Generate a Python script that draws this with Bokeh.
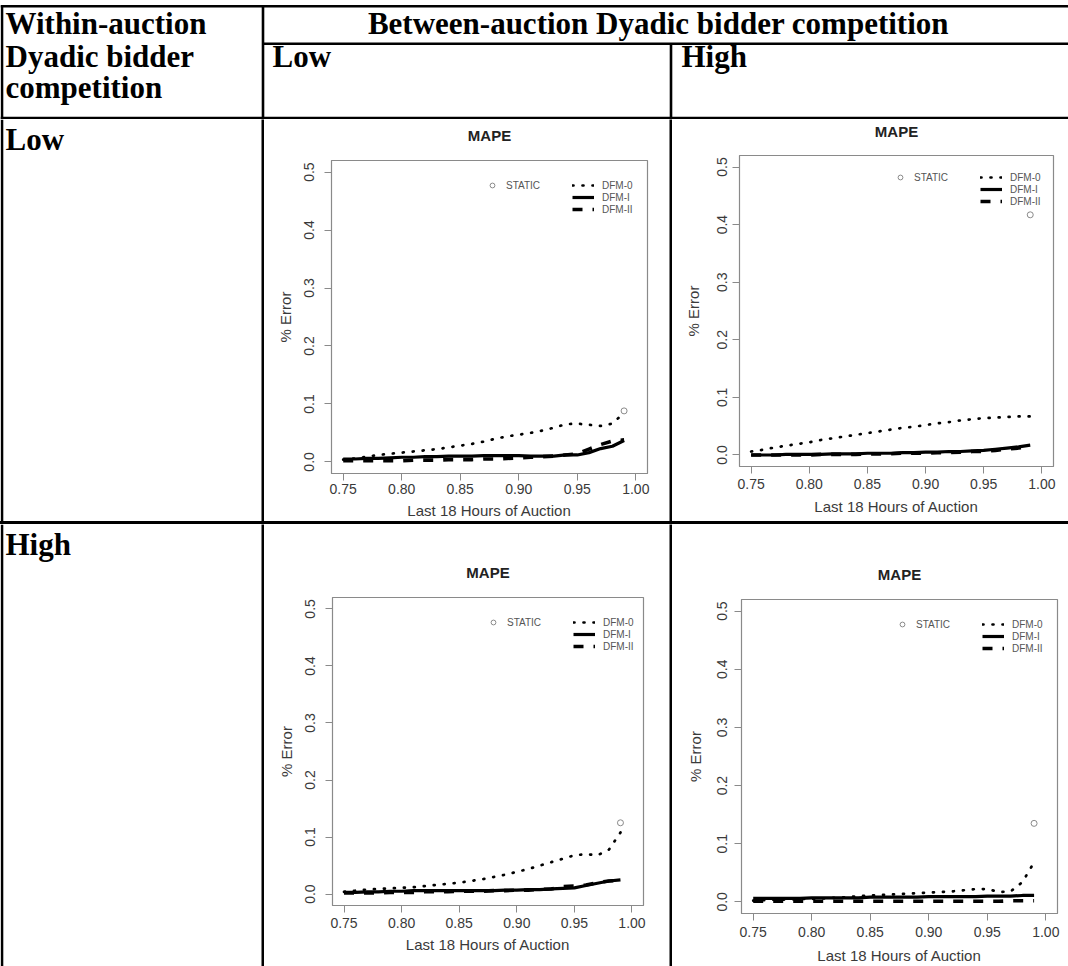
from bokeh.plotting import figure
from bokeh.layouts import column, row
from bokeh.models import (Range1d, FixedTicker, PrintfTickFormatter, Legend, LegendItem,
                          LinearAxis, Div)
from bokeh.core.properties import value
from bokeh.embed import file_html
from bokeh.resources import INLINE

# ---------------- data ----------------
x_frac = [0.75, 0.76, 0.77, 0.78, 0.79, 0.80, 0.81, 0.82, 0.83, 0.84, 0.85, 0.86, 0.87,
          0.88, 0.89, 0.90, 0.91, 0.92, 0.93, 0.94, 0.95, 0.96, 0.97, 0.98, 0.99]
x_ticks = [0.75, 0.80, 0.85, 0.90, 0.95, 1.00]
y_ticks = [0.0, 0.1, 0.2, 0.3, 0.4, 0.5]
series_names = ["STATIC", "DFM-0", "DFM-I", "DFM-II"]

# within Low / between Low
dfm0_ll = [0.004, 0.006, 0.009, 0.012, 0.014, 0.016, 0.018, 0.020, 0.022, 0.025, 0.028, 0.031, 0.035,
           0.040, 0.044, 0.047, 0.050, 0.054, 0.059, 0.065, 0.066, 0.064, 0.062, 0.066, 0.085]
dfm1_ll = [0.005, 0.005, 0.006, 0.006, 0.007, 0.008, 0.008, 0.009, 0.009, 0.010, 0.010, 0.010, 0.011,
           0.011, 0.011, 0.011, 0.010, 0.010, 0.010, 0.012, 0.012, 0.016, 0.023, 0.027, 0.037]
dfm2_ll = [0.002, 0.002, 0.002, 0.002, 0.002, 0.002, 0.003, 0.003, 0.003, 0.004, 0.004, 0.004, 0.005,
           0.005, 0.006, 0.007, 0.008, 0.009, 0.010, 0.012, 0.014, 0.022, 0.030, 0.036, 0.038]
static_ll = [0.088]

# within Low / between High
dfm0_lh = [0.006, 0.009, 0.013, 0.016, 0.019, 0.022, 0.026, 0.029, 0.032, 0.035, 0.038, 0.041, 0.044,
           0.047, 0.049, 0.052, 0.055, 0.057, 0.060, 0.062, 0.064, 0.065, 0.066, 0.067, 0.067]
dfm1_lh = [0.000, 0.000, 0.000, 0.001, 0.001, 0.001, 0.001, 0.002, 0.002, 0.002, 0.003, 0.003, 0.003,
           0.004, 0.004, 0.005, 0.005, 0.006, 0.006, 0.007, 0.008, 0.010, 0.012, 0.014, 0.017]
dfm2_lh = [0.000, 0.000, 0.000, 0.000, 0.000, 0.000, 0.001, 0.001, 0.001, 0.001, 0.002, 0.002, 0.002,
           0.003, 0.003, 0.003, 0.004, 0.004, 0.005, 0.006, 0.006, 0.008, 0.010, 0.012, 0.015]
static_lh = [0.417]

# within High / between Low
dfm0_hl = [0.004, 0.006, 0.008, 0.009, 0.010, 0.011, 0.012, 0.014, 0.016, 0.018, 0.020, 0.023, 0.026,
           0.030, 0.034, 0.039, 0.044, 0.050, 0.056, 0.062, 0.068, 0.070, 0.068, 0.078, 0.108]
dfm1_hl = [0.003, 0.003, 0.004, 0.004, 0.005, 0.005, 0.006, 0.006, 0.006, 0.006, 0.006, 0.006, 0.006,
           0.006, 0.007, 0.007, 0.008, 0.008, 0.009, 0.010, 0.011, 0.015, 0.019, 0.023, 0.025]
dfm2_hl = [0.002, 0.002, 0.002, 0.002, 0.003, 0.003, 0.003, 0.004, 0.004, 0.004, 0.005, 0.005, 0.005,
           0.006, 0.006, 0.007, 0.007, 0.008, 0.009, 0.013, 0.014, 0.016, 0.020, 0.023, 0.024]
static_hl = [0.125]

# within High / between High
dfm0_hh = [0.002, 0.003, 0.004, 0.004, 0.005, 0.005, 0.006, 0.007, 0.008, 0.010, 0.011, 0.012, 0.013,
           0.014, 0.015, 0.016, 0.017, 0.018, 0.020, 0.022, 0.022, 0.017, 0.018, 0.034, 0.068]
dfm1_hh = [0.006, 0.006, 0.006, 0.006, 0.006, 0.007, 0.007, 0.007, 0.007, 0.007, 0.008, 0.008, 0.008,
           0.008, 0.008, 0.009, 0.009, 0.009, 0.009, 0.009, 0.010, 0.010, 0.010, 0.011, 0.011]
dfm2_hh = [0.001, 0.001, 0.001, 0.001, 0.001, 0.001, 0.001, 0.001, 0.001, 0.001, 0.001, 0.001, 0.001,
           0.001, 0.001, 0.001, 0.001, 0.001, 0.001, 0.001, 0.001, 0.001, 0.002, 0.002, 0.002]
static_hh = [0.135]
static_x = [0.99]

col_header = "Between-auction Dyadic bidder competition"
row_header = ["Within-auction", "Dyadic bidder", "competition"]
levels = ["Low", "High"]
chart_title = "MAPE"
x_label = "Last 18 Hours of Auction"
y_label = "% Error"

SERIF = value("Liberation Serif")
SANS = "Liberation Sans"
GREY = "#8a8a8a"
TXT = "#3a3a3a"
HDR_SIZE = "31px"
W = 1068


def no_align(p):
    try:
        p.frame_align = False
    except Exception:
        pass
    return p


def blank(w, h, yr):
    p = figure(width=w, height=h, x_range=Range1d(0, w), y_range=Range1d(yr, 0),
               min_border=0, toolbar_location=None, output_backend="svg",
               x_axis_type=None, y_axis_type=None, outline_line_color=None)
    p.grid.visible = False
    return no_align(p)


def black_bar(w, h):
    p = figure(width=w, height=h, min_border=0, toolbar_location=None, output_backend="svg",
               x_axis_type=None, y_axis_type=None, outline_line_color=None,
               background_fill_color="black", border_fill_color="black")
    p.grid.visible = False
    return no_align(p)


# ---------------- header ----------------
hdr = blank(W, 119, 119)
hdr.segment(x0=[0, 262, 0, 262.5, 670.5, 1.5], y0=[5.7, 43.3, 117.5, 5, 43, 5],
            x1=[W, W, W, 262.5, 670.5, 1.5], y1=[5.7, 43.3, 117.5, 119, 119, 119],
            line_color="black", line_width=2.6)
hdr.text(x=[5, 5, 5], y=[23, 56, 87], text=row_header, text_font=SERIF,
         text_font_style="bold", text_font_size=HDR_SIZE, text_baseline="middle")
hdr.text(x=[658], y=[23], text=[col_header], text_font=SERIF, text_align="center",
         text_font_style="bold", text_font_size=HDR_SIZE, text_baseline="middle")
hdr.text(x=[272, 681], y=[56, 56], text=levels, text_font=SERIF,
         text_font_style="bold", text_font_size=HDR_SIZE, text_baseline="middle")


def row_label(h, label):
    p = blank(261, h, h)
    p.segment(x0=[1.5], y0=[0], x1=[1.5], y1=[h], line_color="black", line_width=2.6)
    p.text(x=[5], y=[20], text=[label], text_font=SERIF, text_font_style="bold",
           text_font_size=HDR_SIZE, text_baseline="middle")
    return p


def chart(w, h, fl, fr, ft, fb, yls, yas, xls, xas, ts, d0, d1, d2, st):
    p = figure(width=w, height=h, x_range=Range1d(0.74, 1.01), y_range=Range1d(-0.02, 0.52),
               min_border_left=fl, min_border_right=fr, min_border_top=ft, min_border_bottom=fb,
               toolbar_location=None, output_backend="svg",
               outline_line_color=GREY, outline_line_width=1.2)
    no_align(p)
    p.grid.visible = False
    xa = p.below[0]
    ya = p.left[0]
    xa.ticker = FixedTicker(ticks=x_ticks)
    xa.formatter = PrintfTickFormatter(format="%.2f")
    ya.ticker = FixedTicker(ticks=y_ticks)
    ya.formatter = PrintfTickFormatter(format="%.1f")
    xa.axis_label = x_label
    ya.axis_label = y_label
    for ax in (xa, ya):
        ax.major_tick_out = 7
        ax.major_tick_in = 0
        ax.minor_tick_out = 0
        ax.minor_tick_in = 0
        ax.axis_line_color = GREY
        ax.major_tick_line_color = GREY
        ax.major_label_text_font = SANS
        ax.major_label_text_font_size = "14px"
        ax.major_label_text_color = TXT
        ax.axis_label_text_font = SANS
        ax.axis_label_text_font_size = "15px"
        ax.axis_label_text_font_style = "normal"
        ax.axis_label_text_color = TXT
    ya.major_label_orientation = "vertical"
    xa.major_label_standoff = xls
    xa.axis_label_standoff = xas
    ya.major_label_standoff = yls
    ya.axis_label_standoff = yas

    # chart title, placed in the panel above the frame
    top = LinearAxis(ticker=FixedTicker(ticks=[]), axis_label=chart_title,
                     axis_line_color=None, major_tick_out=0, major_tick_in=0,
                     minor_tick_out=0, minor_tick_in=0, major_label_standoff=0,
                     major_label_text_font_size="0px",
                     axis_label_standoff=ts, axis_label_text_font=SANS,
                     axis_label_text_font_size="15px", axis_label_text_font_style="bold",
                     axis_label_text_color="#222222")
    p.add_layout(top, "above")

    r0 = p.line(x_frac, d0, line_color="black", line_width=2.7, line_dash="1 9", line_cap="round")
    r1 = p.line(x_frac, d1, line_color="black", line_width=3.2)
    r2 = p.line(x_frac, d2, line_color="black", line_width=3.6, line_dash="10 10")
    rs = p.scatter(static_x, st, marker="circle", size=6, fill_color=None,
                   line_color="#8a8a8a", line_width=1)

    fh = h - ft - fb
    common = dict(padding=0, spacing=0, margin=0, glyph_height=12, label_height=12,
                  label_standoff=8, border_line_alpha=0, background_fill_alpha=0,
                  label_text_font_size="10px", label_text_color="#555555",
                  label_text_font=SANS)
    leg_s = Legend(items=[LegendItem(label=series_names[0], renderers=[rs])],
                   location=(155, fh - 31), glyph_width=12, **common)
    leg_d = Legend(items=[LegendItem(label=series_names[1], renderers=[r0]),
                          LegendItem(label=series_names[2], renderers=[r1]),
                          LegendItem(label=series_names[3], renderers=[r2])],
                   location=(241, fh - 55), glyph_width=22, **common)
    p.add_layout(leg_s)
    p.add_layout(leg_d)
    return p


c_ll = chart(405, 402, 67, 22, 41, 48, 10, 8, 3, 5, 17, dfm0_ll, dfm1_ll, dfm2_ll, static_ll)
c_lh = chart(396, 402, 67, 15, 33, 55, 5, 13, 5, 6, 16, dfm0_lh, dfm1_lh, dfm2_lh, static_lh)
c_hl = chart(405, 442, 68, 26, 73, 61, 10, 8, 5, 5, 17, dfm0_hl, dfm1_hl, dfm2_hl, static_hl)
c_hh = chart(396, 442, 69, 11, 75, 53, 7, 11, 6, 7, 17, dfm0_hh, dfm1_hh, dfm2_hh, static_hh)

rule = Div(text="", width=W, height=3, margin=0, styles={"background-color": "black"})

row1 = row(row_label(402, levels[0]), black_bar(3, 402), c_ll, black_bar(3, 402), c_lh, spacing=0)
row2 = row(row_label(442, levels[1]), black_bar(3, 442), c_hl, black_bar(3, 442), c_hh, spacing=0)
page = column(hdr, row1, rule, row2, spacing=0)

open("out.html", "w").write(file_html(page, INLINE))
